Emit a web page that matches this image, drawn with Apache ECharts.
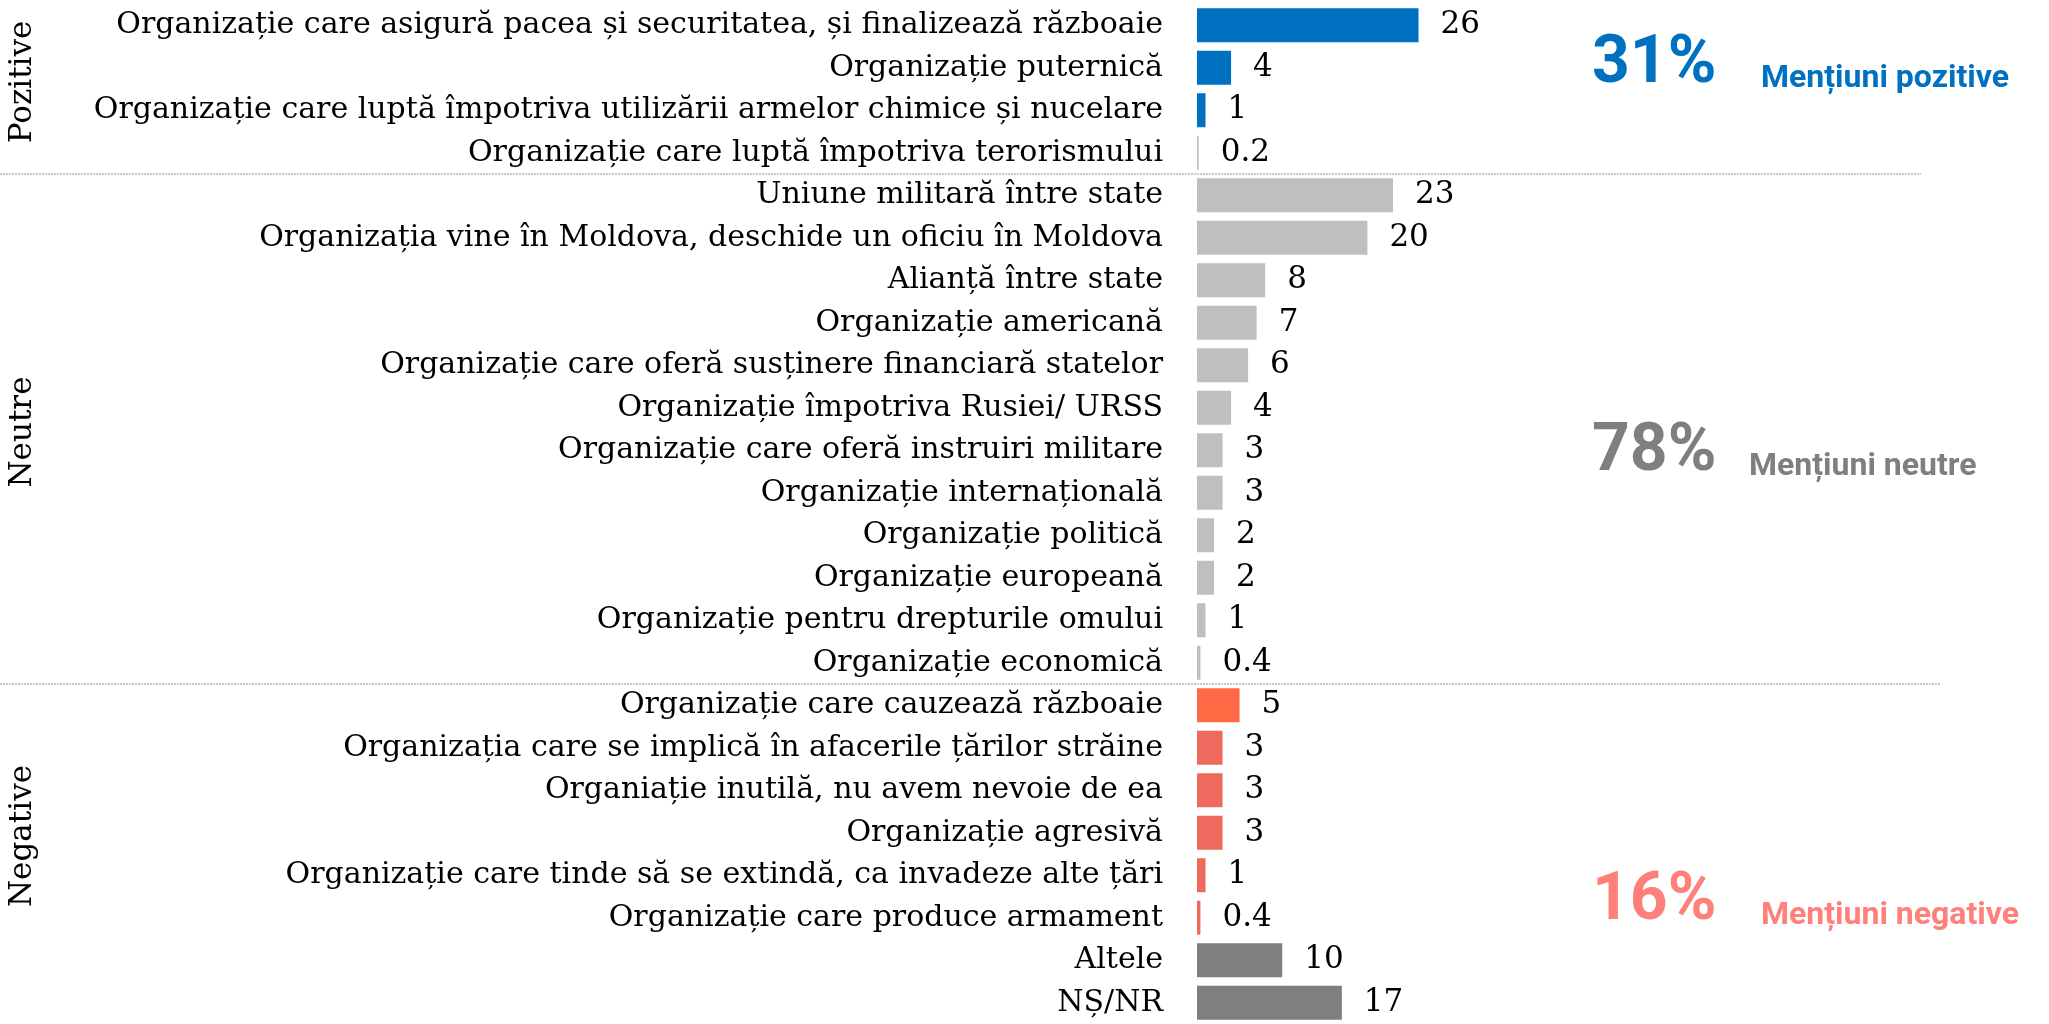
<!DOCTYPE html>
<html>
<head>
<meta charset="utf-8">
<script src="https://cdn.jsdelivr.net/npm/echarts@6/dist/echarts.min.js"></script>
<style>
  html, body { margin: 0; padding: 0; background: #fff; }
  #chart { width: 2049px; height: 1024px; }
</style>
</head>
<body>
<div id="chart"></div>
<script>
// categories, top to bottom
const categories = [
  'Organizație care asigură pacea și securitatea, și finalizează războaie',
  'Organizație puternică',
  'Organizație care luptă împotriva utilizării armelor chimice și nucelare',
  'Organizație care luptă împotriva terorismului',
  'Uniune militară între state',
  'Organizația vine în Moldova, deschide un oficiu în Moldova',
  'Alianță între state',
  'Organizație americană',
  'Organizație care oferă susținere financiară statelor',
  'Organizație împotriva Rusiei/ URSS',
  'Organizație care oferă instruiri militare',
  'Organizație internațională',
  'Organizație politică',
  'Organizație europeană',
  'Organizație pentru drepturile omului',
  'Organizație economică',
  'Organizație care cauzează războaie',
  'Organizația care se implică în afacerile țărilor străine',
  'Organiație inutilă, nu avem nevoie de ea',
  'Organizație agresivă',
  'Organizație care tinde să se extindă, ca invadeze alte țări',
  'Organizație care produce armament',
  'Altele',
  'NȘ/NR'
];
const values = [26, 4, 1, 0.2, 23, 20, 8, 7, 6, 4, 3, 3, 2, 2, 1, 0.4, 5, 3, 3, 3, 1, 0.4, 10, 17];
const groups = ['pos', 'pos', 'pos', 'neu', 'neu', 'neu', 'neu', 'neu', 'neu', 'neu', 'neu', 'neu', 'neu', 'neu', 'neu', 'neu',
  'neg1', 'neg', 'neg', 'neg', 'neg', 'neg', 'other', 'other'];

const groupNames = ['Pozitive', 'Neutre', 'Negative'];
const shares = ['31%', '78%', '16%'];
const shareNames = ['Mențiuni pozitive', 'Mențiuni neutre', 'Mențiuni negative'];

const colorOf = {
  pos: '#0070C0',
  neu: '#BFBFBF',
  neg1: '#FF6A45',
  neg: '#EE6A5E',
  other: '#7F7F7F'
};
const serif = '"DejaVu Serif", serif';

const chart = echarts.init(document.getElementById('chart'));

chart.setOption({
  animation: false,
  grid: { left: 1197, top: 4, bottom: 0, width: 860 },
  xAxis: {
    type: 'value', min: 0, max: 100, show: false
  },
  yAxis: {
    type: 'category',
    inverse: true,
    data: categories,
    axisLine: { show: false },
    axisTick: { show: false },
    axisLabel: { margin: 34, color: '#000', fontFamily: serif, fontSize: 30 }
  },
  series: [{
    type: 'bar',
    barCategoryGap: '20%',
    data: values.map((v, i) => ({ value: v, itemStyle: { color: colorOf[groups[i]] } })),
    label: {
      show: true,
      position: 'right',
      distance: 22,
      color: '#000',
      fontFamily: serif,
      fontSize: 31
    }
  }]
});

// separators and annotations from the axis positions
const yAt = (i) => chart.convertToPixel({ yAxisIndex: 0 }, categories[i]);
const sep1 = (yAt(3) + yAt(4)) / 2;
const sep2 = (yAt(15) + yAt(16)) / 2;

const sepLine = (y, x2) => ({
  type: 'line',
  shape: { x1: 0, y1: y, x2: x2, y2: y },
  style: { stroke: '#C8C8C8', lineWidth: 2, lineDash: [2, 1] },
  silent: true
});

const groupLabel = (text, y) => ({
  type: 'text',
  x: 23, y: y,
  rotation: Math.PI / 2,
  style: {
    text: text, fill: '#000', font: '31px ' + serif,
    align: 'center', verticalAlign: 'middle'
  }
});

const share = (i, y, x2, color) => ([
  {
    type: 'text', x: 1592, y: y,
    style: {
      text: shares[i], fill: color, font: 'bold 66px Roboto',
      align: 'left', verticalAlign: 'bottom'
    }
  },
  {
    type: 'text', x: x2, y: y - 3,
    style: {
      text: shareNames[i], fill: color, font: 'bold 32px Roboto',
      align: 'left', verticalAlign: 'bottom'
    }
  }
]);

chart.setOption({
  graphic: [
    sepLine(sep1, 1921),
    sepLine(sep2, 1940),
    groupLabel(groupNames[0], 82),
    groupLabel(groupNames[1], 432),
    groupLabel(groupNames[2], 836),
    ...share(0, 98, 1761, '#0070C0'),
    ...share(1, 486, 1749, '#7F7F7F'),
    ...share(2, 935, 1761, '#FF7F7A')
  ]
});
</script>
</body>
</html>
